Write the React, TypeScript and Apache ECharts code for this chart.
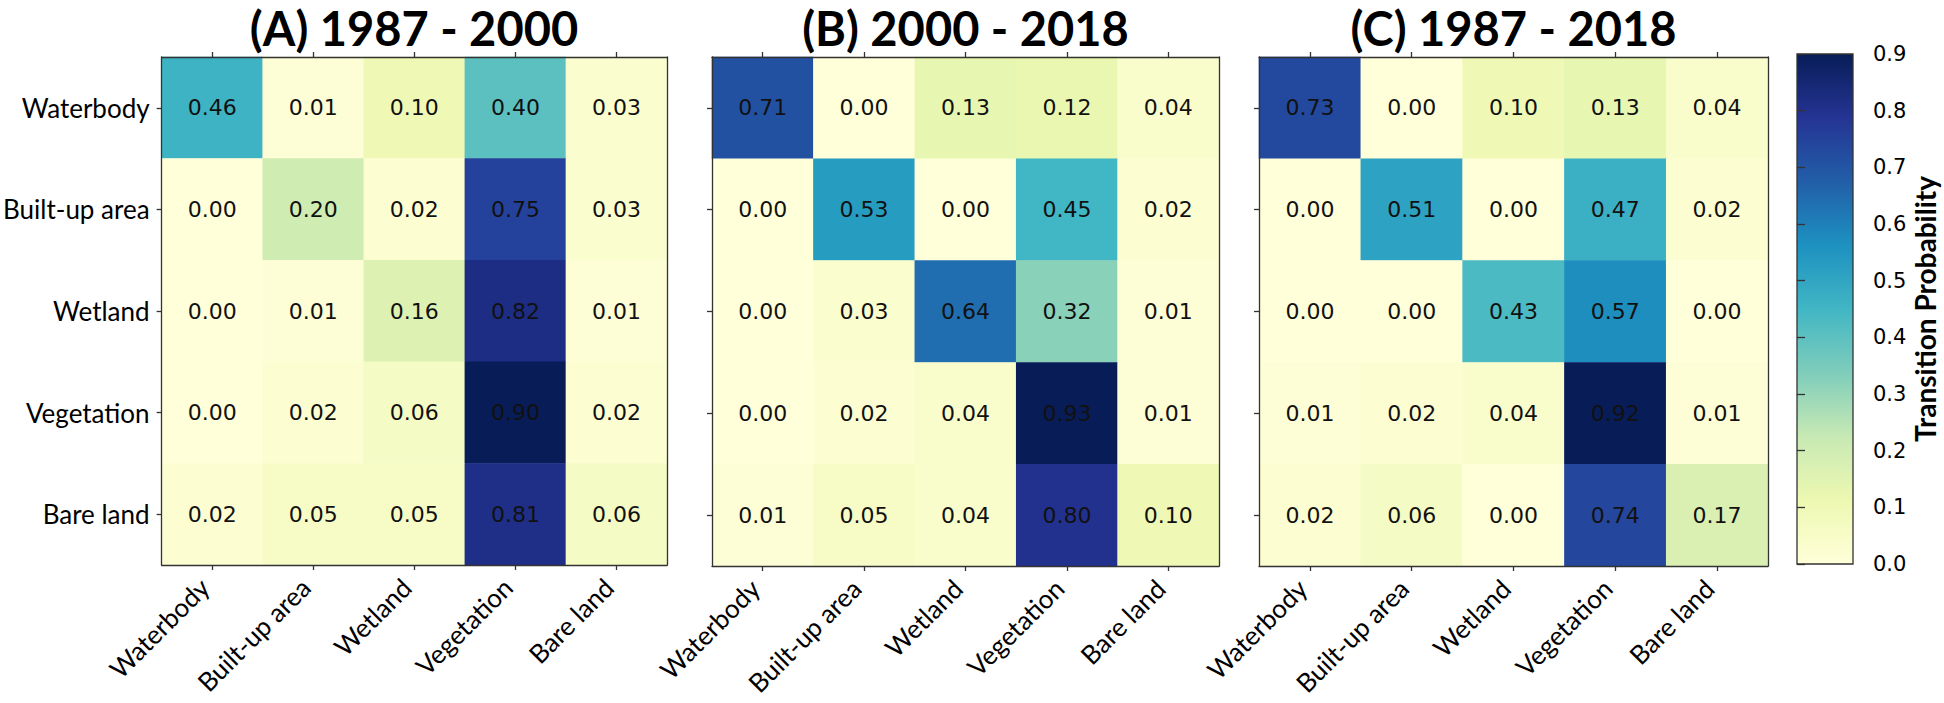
import React, { useEffect, useRef } from "react";
import * as echarts from "echarts";

const CLASSES = ["Waterbody", "Built-up area", "Wetland", "Vegetation", "Bare land"];
const TITLES = ["(A) 1987 - 2000", "(B) 2000 - 2018", "(C) 1987 - 2018"];

const MATRIX_A = [
  [0.46, 0.01, 0.1, 0.4, 0.03],
  [0.0, 0.2, 0.02, 0.75, 0.03],
  [0.0, 0.01, 0.16, 0.82, 0.01],
  [0.0, 0.02, 0.06, 0.9, 0.02],
  [0.02, 0.05, 0.05, 0.81, 0.06],
];
const MATRIX_B = [
  [0.71, 0.0, 0.13, 0.12, 0.04],
  [0.0, 0.53, 0.0, 0.45, 0.02],
  [0.0, 0.03, 0.64, 0.32, 0.01],
  [0.0, 0.02, 0.04, 0.93, 0.01],
  [0.01, 0.05, 0.04, 0.8, 0.1],
];
const MATRIX_C = [
  [0.73, 0.0, 0.1, 0.13, 0.04],
  [0.0, 0.51, 0.0, 0.47, 0.02],
  [0.0, 0.0, 0.43, 0.57, 0.0],
  [0.01, 0.02, 0.04, 0.92, 0.01],
  [0.02, 0.06, 0.0, 0.74, 0.17],
];
const MATRICES = [MATRIX_A, MATRIX_B, MATRIX_C];

const CB_MIN = 0;
const CB_MAX = 0.9;
const CB_INTERVAL = 0.1;
const CB_TITLE = "Transition Probability";

const YLGNBU = ["#ffffd9", "#edf8b1", "#c7e9b4", "#7fcdbb", "#41b6c4", "#1d91c0", "#225ea8", "#253494", "#081d58"];

const GRIDS = [
  { left: 161, top: 57, width: 506, height: 508 },
  { left: 712, top: 57, width: 507, height: 509 },
  { left: 1259, top: 57, width: 509, height: 509 },
];
const CB_GRID = { left: 1797, top: 54, width: 56, height: 510 };

const AXIS_COLOR = "#333";
const LABEL_FONT = "Lato, 'Open Sans', sans-serif";
const NUM_FONT = "'DejaVu Sans', sans-serif";

function toData(m: number[][]) {
  const out: [number, number, number][] = [];
  m.forEach((row, r) => row.forEach((v, c) => out.push([c, r, v])));
  return out;
}

export default function App() {
  const ref = useRef<HTMLDivElement>(null);
  useEffect(() => {
    document.body.style.margin = "0";
    if (!ref.current) return;
    const chart = echarts.init(ref.current, undefined, { renderer: "svg" });

    const grids: any[] = GRIDS.map((g) => ({ ...g, containLabel: false }));
    grids.push({
      ...CB_GRID,
      show: true,
      borderColor: AXIS_COLOR,
      borderWidth: 1.3,
      backgroundColor: {
        type: "linear",
        x: 0,
        y: 1,
        x2: 0,
        y2: 0,
        colorStops: YLGNBU.map((c, i) => ({ offset: i / (YLGNBU.length - 1), color: c })),
      },
    });

    const xAxes: any[] = [];
    const yAxes: any[] = [];
    GRIDS.forEach((_, i) => {
      const lineStyle = { color: AXIS_COLOR, width: 1.3 };
      xAxes.push({
        type: "category",
        gridIndex: i,
        data: CLASSES,
        position: "bottom",
        z: 10,
        axisLine: { show: true, lineStyle },
        axisTick: { show: true, alignWithLabel: true, length: 5, lineStyle },
        axisLabel: {
          show: true,
          rotate: 45,
          interval: 0,
          margin: 10,
          padding: [0, 11, 0, 0],
          fontFamily: LABEL_FONT,
          fontSize: 26,
          color: "#000",
        },
        splitLine: { show: false },
      });
      xAxes.push({
        type: "category",
        gridIndex: i,
        data: CLASSES,
        position: "top",
        z: 10,
        axisLine: { show: true, lineStyle },
        axisTick: { show: true, alignWithLabel: true, length: 5, lineStyle },
        axisLabel: { show: false },
        splitLine: { show: false },
      });
      yAxes.push({
        type: "category",
        gridIndex: i,
        data: CLASSES,
        inverse: true,
        position: "left",
        z: 10,
        axisLine: { show: true, lineStyle },
        axisTick: { show: true, alignWithLabel: true, length: 5, lineStyle },
        axisLabel: {
          show: i === 0,
          margin: 12,
          fontFamily: LABEL_FONT,
          fontSize: 26,
          color: "#000",
        },
        splitLine: { show: false },
      });
      yAxes.push({
        type: "category",
        gridIndex: i,
        data: CLASSES,
        inverse: true,
        position: "right",
        z: 10,
        axisLine: { show: true, lineStyle },
        axisTick: { show: false },
        axisLabel: { show: false },
        splitLine: { show: false },
      });
    });
    xAxes.push({ type: "value", gridIndex: 3, show: false, min: 0, max: 1 });
    yAxes.push({
      type: "value",
      gridIndex: 3,
      position: "right",
      min: CB_MIN,
      max: CB_MAX,
      interval: CB_INTERVAL,
      z: 10,
      axisLine: { show: false },
      axisTick: { show: true, length: 8, lineStyle: { color: AXIS_COLOR, width: 1.3 } },
      axisLabel: {
        show: true,
        margin: 20,
        fontFamily: NUM_FONT,
        fontSize: 21,
        color: "#000",
        formatter: (v: number) => v.toFixed(1),
      },
      splitLine: { show: false },
      name: CB_TITLE,
      nameLocation: "middle",
      nameGap: 58,
      nameRotate: 90,
      nameTextStyle: { fontFamily: LABEL_FONT, fontWeight: "bold", fontSize: 28, color: "#000" },
    });

    const series = MATRICES.map((m, i) => ({
      type: "heatmap",
      xAxisIndex: i * 2,
      yAxisIndex: i * 2,
      data: toData(m),
      label: {
        show: true,
        formatter: (p: any) => p.value[2].toFixed(2),
        fontFamily: NUM_FONT,
        fontSize: 22,
        color: "#111",
      },
      emphasis: { disabled: true },
      itemStyle: { borderWidth: 0 },
    }));

    const titles = TITLES.map((t, i) => ({
      text: t,
      left: GRIDS[i].left + GRIDS[i].width / 2,
      top: 4,
      padding: 0,
      textAlign: "center",
      textStyle: { fontFamily: LABEL_FONT, fontWeight: "bold", fontSize: 47, color: "#000" },
    }));

    chart.setOption({
      animation: false,
      backgroundColor: "#fff",
      title: titles,
      grid: grids,
      xAxis: xAxes,
      yAxis: yAxes,
      visualMap: {
        type: "continuous",
        show: false,
        min: CB_MIN,
        max: CB_MAX,
        dimension: 2,
        seriesIndex: [0, 1, 2],
        inRange: { color: YLGNBU },
      },
      series,
    });
    return () => chart.dispose();
  }, []);
  return <div ref={ref} style={{ width: 1944, height: 703 }} />;
}
